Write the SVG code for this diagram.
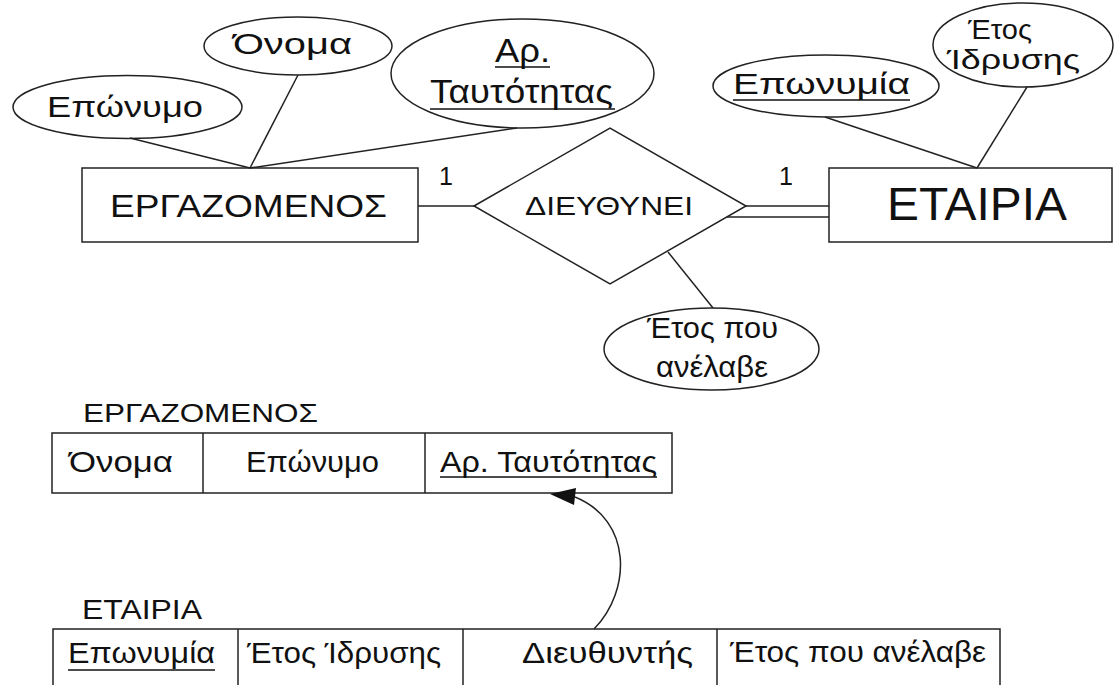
<svg xmlns="http://www.w3.org/2000/svg" width="1116" height="685" viewBox="0 0 1116 685">
<style>
.s{fill:none;stroke:#222;stroke-width:1.5}
.b{fill:#fff;stroke:#222;stroke-width:1.5}
text{font-family:"Liberation Sans",Arial,sans-serif;fill:#111}
.u{stroke:#111;stroke-width:1.6}
</style>
<rect width="1116" height="685" fill="#fff"/>
<g id="attr-eponymo">
<ellipse class="b" cx="127.5" cy="107" rx="114.5" ry="31.5"/>
<text x="47" y="117" font-size="30" textLength="156" lengthAdjust="spacingAndGlyphs">Επώνυμο</text>
</g>
<g id="attr-onoma">
<ellipse class="b" cx="298" cy="46" rx="94" ry="29"/>
<text x="233" y="54" font-size="30" textLength="119" lengthAdjust="spacingAndGlyphs">Όνομα</text>
</g>
<g id="attr-ar-taytotitas">
<ellipse class="b" cx="522.5" cy="73.5" rx="131.5" ry="54.5"/>
<text x="495" y="62" font-size="33" textLength="55" lengthAdjust="spacingAndGlyphs">Αρ.</text>
<line class="u" x1="495" y1="67" x2="550" y2="67"/>
<text x="430" y="103" font-size="33" textLength="183" lengthAdjust="spacingAndGlyphs">Ταυτότητας</text>
<line class="u" x1="430" y1="109" x2="615" y2="109"/>
</g>
<g id="entity-ergazomenos">
<rect class="b" x="82" y="168" width="336" height="74"/>
<text x="110" y="217" font-size="31" textLength="277" lengthAdjust="spacingAndGlyphs">ΕΡΓΑΖΟΜΕΝΟΣ</text>
</g>
<g id="rel-dieythynei">
<polygon class="b" points="474,206 610,128 746,206 610,284"/>
<text x="525" y="215" font-size="26" textLength="168" lengthAdjust="spacingAndGlyphs">ΔΙΕΥΘΥΝΕΙ</text>
</g>
<g id="card-left"><text x="439" y="185" font-size="25">1</text></g>
<g id="card-right"><text x="779" y="185" font-size="25">1</text></g>
<g id="attr-eponymia">
<ellipse class="b" cx="826" cy="86" rx="113" ry="31"/>
<text x="733" y="94" font-size="30" textLength="177" lengthAdjust="spacingAndGlyphs">Επωνυμία</text>
<line class="u" x1="733" y1="100" x2="910" y2="100"/>
</g>
<g id="attr-etos-idrysis">
<ellipse class="b" cx="1023" cy="45" rx="90" ry="42"/>
<text x="968" y="39" font-size="28" textLength="64" lengthAdjust="spacingAndGlyphs">Έτος</text>
<text x="947" y="69" font-size="28" textLength="133" lengthAdjust="spacingAndGlyphs">Ίδρυσης</text>
</g>
<g id="entity-etairia">
<rect class="b" x="829" y="168" width="283" height="74"/>
<text x="887" y="220" font-size="46" textLength="180" lengthAdjust="spacingAndGlyphs">ΕΤΑΙΡΙΑ</text>
</g>
<g id="attr-etos-pou-anelave">
<ellipse class="b" cx="711.5" cy="349" rx="107.5" ry="41"/>
<text x="647" y="338" font-size="30" textLength="131" lengthAdjust="spacingAndGlyphs">Έτος που</text>
<text x="656" y="377" font-size="30" textLength="112" lengthAdjust="spacingAndGlyphs">ανέλαβε</text>
</g>
<g id="table-ergazomenos">
<text x="83" y="422" font-size="26" textLength="235" lengthAdjust="spacingAndGlyphs">ΕΡΓΑΖΟΜΕΝΟΣ</text>
<rect class="b" x="52" y="433" width="620" height="60"/>
<line class="s" x1="203" y1="433" x2="203" y2="493"/>
<line class="s" x1="425" y1="433" x2="425" y2="493"/>
<text x="69" y="472" font-size="30" textLength="104" lengthAdjust="spacingAndGlyphs">Όνομα</text>
<text x="246" y="472" font-size="30" textLength="133" lengthAdjust="spacingAndGlyphs">Επώνυμο</text>
<text x="440" y="472" font-size="30" textLength="217" lengthAdjust="spacingAndGlyphs">Αρ. Ταυτότητας</text>
<line class="u" x1="440" y1="477" x2="657" y2="477"/>
</g>
<g id="table-etairia">
<text x="82" y="619" font-size="28" textLength="120" lengthAdjust="spacingAndGlyphs">ΕΤΑΙΡΙΑ</text>
<rect class="b" x="53" y="629" width="947" height="80"/>
<line class="s" x1="238" y1="629" x2="238" y2="685"/>
<line class="s" x1="463" y1="629" x2="463" y2="685"/>
<line class="s" x1="717" y1="629" x2="717" y2="685"/>
<text x="68" y="663" font-size="30" textLength="147" lengthAdjust="spacingAndGlyphs">Επωνυμία</text>
<line class="u" x1="68" y1="670" x2="215" y2="670"/>
<text x="247" y="663" font-size="30" textLength="194" lengthAdjust="spacingAndGlyphs">Έτος Ίδρυσης</text>
<text x="522" y="663" font-size="30" textLength="171" lengthAdjust="spacingAndGlyphs">Διευθυντής</text>
<text x="730" y="662" font-size="30" textLength="256" lengthAdjust="spacingAndGlyphs">Έτος που ανέλαβε</text>
</g>
<g id="connectors">
<line class="s" x1="250" y1="168" x2="130" y2="138"/>
<line class="s" x1="250" y1="168" x2="298" y2="75"/>
<line class="s" x1="250" y1="168" x2="517" y2="128"/>
<line class="s" x1="977" y1="168" x2="825" y2="117"/>
<line class="s" x1="977" y1="168" x2="1027" y2="87"/>
<line class="s" x1="418" y1="206" x2="474" y2="206"/>
<line class="s" x1="746" y1="206" x2="829" y2="206"/>
<line class="s" x1="727" y1="217" x2="829" y2="217"/>
<line class="s" x1="668" y1="252" x2="713" y2="308"/>
<path class="s" d="M594,629 C632,590 632,520 575,497"/>
<polygon points="550,494 576,488 574,505" fill="#111"/>
</g>
</svg>
